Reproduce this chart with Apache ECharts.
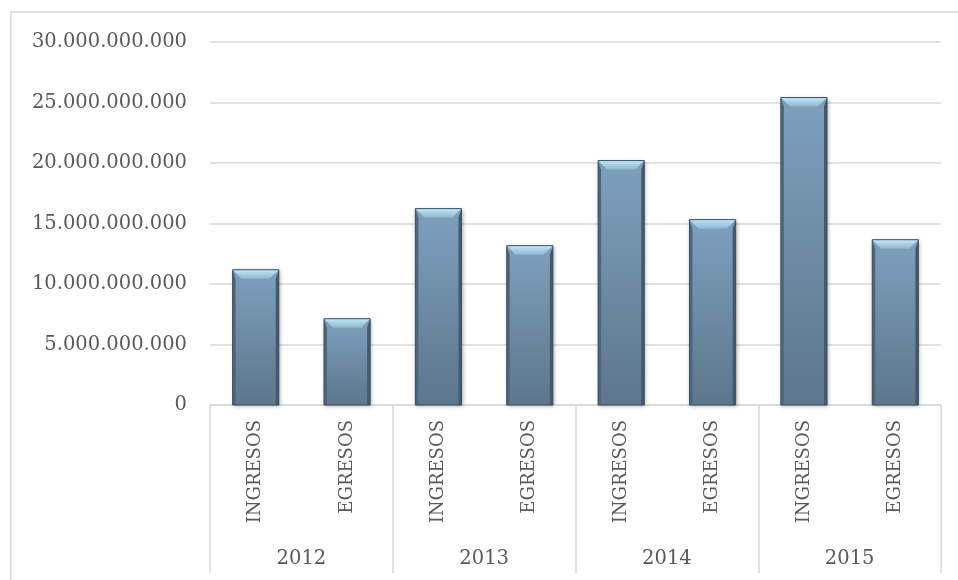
<!DOCTYPE html>
<html>
<head>
<meta charset="utf-8">
<script src="https://cdn.jsdelivr.net/npm/echarts@6/dist/echarts.min.js"></script>
<style>
html,body{margin:0;padding:0;background:#fff;}
#chart{width:958px;height:580px;}
</style>
</head>
<body>
<div id="chart"></div>
<script>
const years = ['2012', '2013', '2014', '2015'];
const subLabels = ['INGRESOS', 'EGRESOS'];
const ingresos = [11180000000, 16230000000, 20200000000, 25410000000];
const egresos = [7130000000, 13170000000, 15320000000, 13660000000];
const yTicks = [0, 5000000000, 10000000000, 15000000000, 20000000000, 25000000000, 30000000000];

// build interleaved category list and values
const categories = [];
const values = [];
years.forEach(function (y, i) {
  categories.push(subLabels[0]); values.push([categories.length - 1, ingresos[i]]);
  categories.push(subLabels[1]); values.push([categories.length - 1, egresos[i]]);
});

const textColor = '#595959';
const lineColor = '#d9d9d9';
const fontFam = 'DejaVu Serif';

function fmt(v) {
  return String(v).replace(/\B(?=(\d{3})+(?!\d))/g, '.');
}

function renderItem(params, api) {
  const idx = api.value(0);
  const val = api.value(1);
  const top = api.coord([idx, val]);
  const base = api.coord([idx, 0]);
  const w = api.size([1, 0])[0] * 0.505;
  const x0 = top[0] - w / 2, x1 = top[0] + w / 2, y0 = top[1], y1 = base[1];
  const b = 9, s = 3;
  return {
    type: 'group',
    children: [
      {
        type: 'rect',
        shape: { x: x0, y: y0, width: w, height: y1 - y0 },
        style: {
          fill: new echarts.graphic.LinearGradient(0, 0, 0, 1, [
            { offset: 0, color: '#7ea0bc' },
            { offset: 1, color: '#5c768d' }
          ]),
          shadowColor: 'rgba(0,0,0,0.35)', shadowBlur: 4, shadowOffsetX: 1, shadowOffsetY: 1
        }
      },
      {
        type: 'polygon',
        shape: { points: [[x0, y0], [x0 + s, y0 + b], [x0 + s, y1], [x0, y1]] },
        style: { fill: '#4e657a' }
      },
      {
        type: 'polygon',
        shape: { points: [[x1, y0], [x1 - s, y0 + b], [x1 - s, y1], [x1, y1]] },
        style: { fill: '#44596c' }
      },
      {
        type: 'polygon',
        shape: { points: [[x0, y0], [x1, y0], [x1 - b, y0 + b], [x0 + b, y0 + b]] },
        style: {
          fill: new echarts.graphic.LinearGradient(0, 0, 0, 1, [
            { offset: 0, color: '#c2e8f8' },
            { offset: 1, color: '#8cb6d2' }
          ])
        }
      },
      {
        type: 'rect',
        shape: { x: x0, y: y0, width: w, height: y1 - y0 },
        style: { fill: 'none', stroke: '#3d5163', lineWidth: 1 }
      }
    ]
  };
}

const chart = echarts.init(document.getElementById('chart'), null, { renderer: 'canvas' });
chart.setOption({
  animation: false,
  backgroundColor: '#ffffff',
  graphic: [{
    type: 'rect',
    shape: { x: 11, y: 12, width: 1200, height: 1200 },
    style: { fill: 'none', stroke: lineColor, lineWidth: 1.5 },
    silent: true
  }],
  grid: { left: 210, right: 17, top: 42, bottom: 175, containLabel: false },
  xAxis: [
    {
      type: 'category',
      data: categories,
      boundaryGap: true,
      axisLine: { show: true, lineStyle: { color: lineColor, width: 1.5 } },
      axisTick: { show: false },
      axisLabel: {
        rotate: 90, margin: 15, interval: 0,
        color: textColor, fontFamily: fontFam, fontSize: 18
      },
      splitLine: { show: false }
    },
    {
      type: 'category',
      data: years,
      position: 'bottom',
      boundaryGap: true,
      axisLine: { show: false },
      axisTick: { show: true, length: 168, interval: 0, lineStyle: { color: lineColor, width: 1.5 } },
      axisLabel: {
        margin: 144, interval: 0,
        color: textColor, fontFamily: fontFam, fontSize: 19.5
      },
      splitLine: { show: false }
    }
  ],
  yAxis: {
    type: 'value',
    min: yTicks[0],
    max: yTicks[yTicks.length - 1],
    interval: yTicks[1] - yTicks[0],
    axisLine: { show: false },
    axisTick: { show: false },
    axisLabel: {
      margin: 23, color: textColor, fontFamily: fontFam, fontSize: 19.5,
      formatter: fmt
    },
    splitLine: { show: true, lineStyle: { color: lineColor, width: 1.5 } }
  },
  series: [{
    type: 'custom',
    xAxisIndex: 0,
    yAxisIndex: 0,
    renderItem: renderItem,
    encode: { x: 0, y: 1 },
    data: values,
    z: 3
  }]
});
</script>
</body>
</html>
